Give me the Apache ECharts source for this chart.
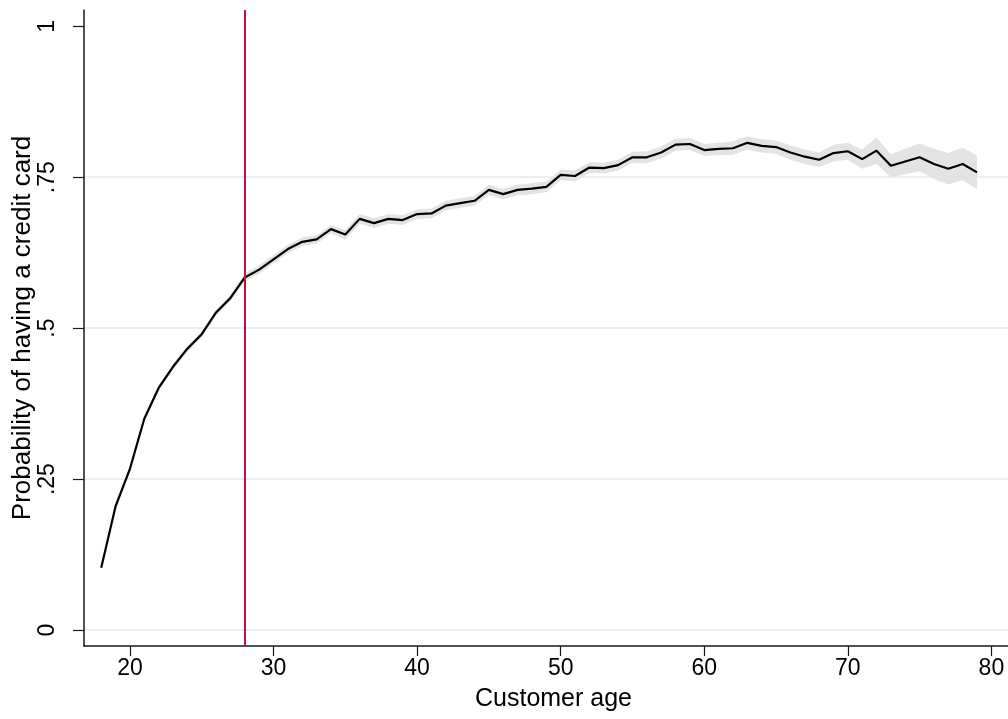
<!DOCTYPE html>
<html>
<head>
<meta charset="utf-8">
<script src="https://cdn.jsdelivr.net/npm/echarts@6/dist/echarts.min.js"></script>
<style>
  html, body { margin: 0; padding: 0; background: #fff; }
  #app { width: 1008px; height: 719px; }
</style>
</head>
<body>
<div id="app"></div>
<script>
// customer age, 18..79
const ages = [
  18, 19, 20, 21, 22, 23, 24, 25, 26, 27,
  28, 29, 30, 31, 32, 33, 34, 35, 36, 37,
  38, 39, 40, 41, 42, 43, 44, 45, 46, 47,
  48, 49, 50, 51, 52, 53, 54, 55, 56, 57,
  58, 59, 60, 61, 62, 63, 64, 65, 66, 67,
  68, 69, 70, 71, 72, 73, 74, 75, 76, 77,
  78, 79
];

// predicted probability of having a credit card
const probability = [
  0.103, 0.205, 0.267, 0.350, 0.401, 0.436, 0.466, 0.490, 0.526, 0.550,
  0.584, 0.597, 0.614, 0.631, 0.643, 0.647, 0.664, 0.655, 0.681, 0.674,
  0.681, 0.679, 0.689, 0.690, 0.703, 0.707, 0.711, 0.729, 0.722, 0.729,
  0.731, 0.734, 0.754, 0.752, 0.766, 0.765, 0.770, 0.783, 0.783, 0.791,
  0.804, 0.805, 0.795, 0.797, 0.798, 0.807, 0.802, 0.800, 0.791, 0.784,
  0.779, 0.790, 0.793, 0.780, 0.794, 0.769, 0.776, 0.783, 0.772, 0.764,
  0.772, 0.758
];

// half width of the confidence band
const ciHalf = [
  0.004, 0.004, 0.004, 0.004, 0.005, 0.005, 0.005, 0.005, 0.005, 0.005,
  0.007, 0.007, 0.007, 0.007, 0.007, 0.007, 0.007, 0.008, 0.008, 0.008,
  0.008, 0.008, 0.008, 0.008, 0.008, 0.008, 0.008, 0.009, 0.009, 0.009,
  0.009, 0.009, 0.009, 0.009, 0.009, 0.009, 0.009, 0.009, 0.010, 0.010,
  0.010, 0.010, 0.010, 0.010, 0.011, 0.011, 0.011, 0.011, 0.012, 0.012,
  0.012, 0.014, 0.014, 0.016, 0.022, 0.019, 0.021, 0.023, 0.025, 0.026,
  0.027, 0.028
];

const cutoffAge = 28;
const xTicks = [20, 30, 40, 50, 60, 70, 80];
const yTicks = [0, 0.25, 0.5, 0.75, 1];
const yGrid = [0, 0.25, 0.5, 0.75];

const FONT = "Liberation Sans";

function yLabel(v) {
  if (v === 0 || v === 1) return String(v);
  return String(v).replace(/^0/, "");
}

const chart = echarts.init(document.getElementById("app"), null, { renderer: "canvas" });

const lineData = ages.map((a, i) => [a, probability[i]]);

chart.setOption({
  backgroundColor: "#fff",
  animation: false,
  // plot region runs a little past the right edge of the picture
  grid: { left: 84, right: -15, top: 10, bottom: 73, containLabel: false, outerBoundsMode: "none" },
  xAxis: {
    type: "value",
    min: 16.8,
    max: 82.2,
    name: "Customer age",
    nameLocation: "middle",
    nameGap: 41,
    nameMoveOverlap: false,
    nameTextStyle: { fontFamily: FONT, fontSize: 25, color: "#000" },
    axisLine: { show: true, onZero: false, lineStyle: { color: "#1a1a1a", width: 1.5 } },
    axisTick: { show: true, length: 10, customValues: xTicks, lineStyle: { color: "#1a1a1a", width: 1.2 } },
    axisLabel: { customValues: xTicks, margin: 11, fontFamily: FONT, fontSize: 23, color: "#000" },
    splitLine: { show: false }
  },
  yAxis: [
    {
      type: "value",
      min: -0.0265,
      max: 1.027,
      name: "Probability of having a credit card",
      nameLocation: "middle",
      nameGap: 48,
      nameMoveOverlap: false,
      nameTextStyle: { fontFamily: FONT, fontSize: 26, color: "#000" },
      axisLine: { show: true, onZero: false, lineStyle: { color: "#1a1a1a", width: 1.5 } },
      axisTick: { show: true, length: 11, customValues: yTicks, lineStyle: { color: "#1a1a1a", width: 1.2 } },
      axisLabel: { customValues: yTicks, rotate: 90, margin: 25, fontFamily: FONT, fontSize: 23, color: "#000", formatter: yLabel },
      splitLine: { show: false }
    },
    {
      // gridlines only (none at 1)
      type: "value",
      min: -0.0265,
      max: 1.027,
      position: "left",
      axisLine: { show: false },
      axisTick: { show: false, customValues: yGrid },
      axisLabel: { show: false, customValues: yGrid },
      splitLine: { show: true, lineStyle: { color: "#e8f0f2", width: 2 } }
    }
  ],
  series: [
    {
      type: "custom",
      name: "ci",
      z: 1,
      silent: true,
      data: lineData,
      renderItem: function (params, api) {
        if (params.dataIndex !== 0) return null;
        const upper = ages.map((a, i) => api.coord([a, probability[i] + ciHalf[i]]));
        const lower = ages.map((a, i) => api.coord([a, probability[i] - ciHalf[i]])).reverse();
        return {
          type: "polygon",
          shape: { points: upper.concat(lower) },
          style: { fill: "#e3e3e3", stroke: null }
        };
      }
    },
    {
      type: "line",
      name: "probability",
      z: 3,
      data: lineData,
      showSymbol: false,
      symbol: "none",
      lineStyle: { color: "#000", width: 2.2 },
      markLine: {
        silent: true,
        symbol: ["none", "none"],
        label: { show: false },
        lineStyle: { color: "#c4103a", width: 2, type: "solid" },
        data: [{ xAxis: cutoffAge }]
      }
    }
  ]
});
</script>
</body>
</html>
